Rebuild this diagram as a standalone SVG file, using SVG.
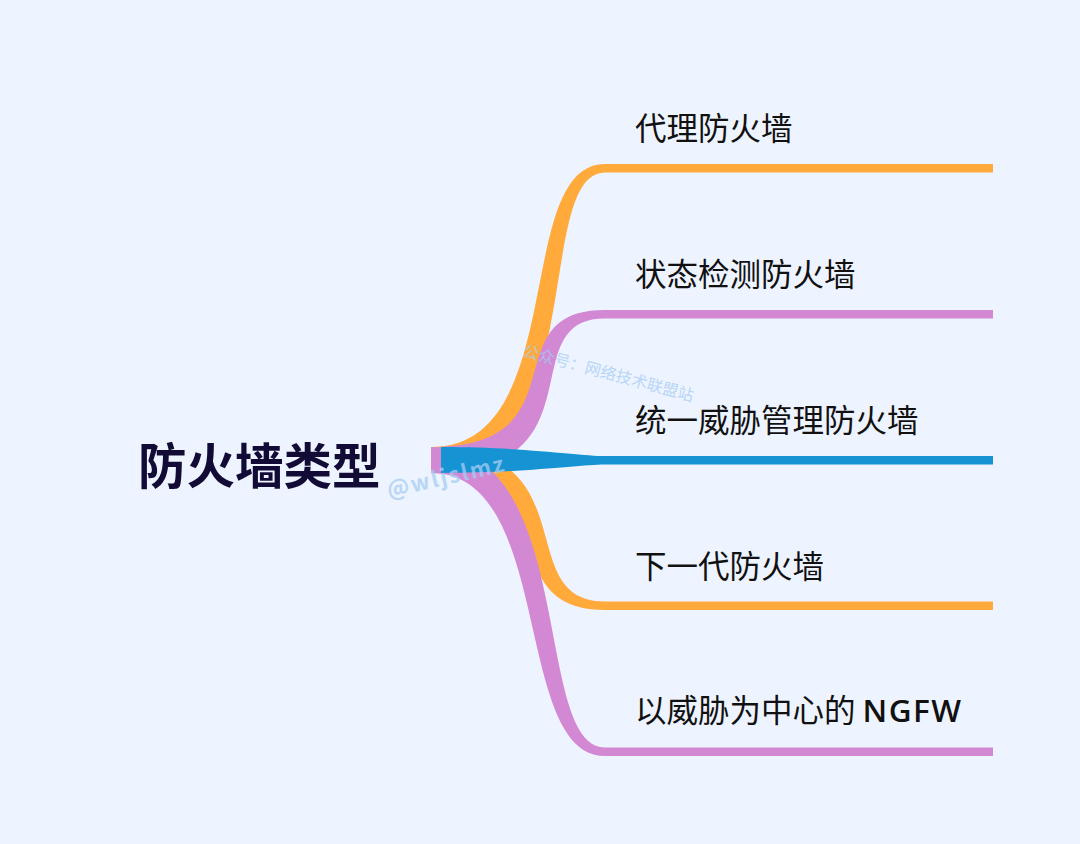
<svg xmlns="http://www.w3.org/2000/svg" width="1080" height="844" viewBox="0 0 1080 844">
<style>
.lbl{font-family:"Noto Sans CJK SC","Noto Sans",sans-serif;font-size:31.5px;fill:#111111}
.ttl{font-family:"Noto Sans CJK SC","Noto Sans",sans-serif;font-size:48.5px;font-weight:700;fill:#120b35}
.o{fill:#FFAA3B}.p{fill:#D388D4}.b{fill:#1593D3}
.wm{font-family:"Noto Sans CJK SC","Noto Sans",sans-serif;fill:#A6CDF3;opacity:0.75}
</style>
<rect width="1080" height="844" fill="#EEF4FF"/>
<g id="connectors">
<path class="o" d="M431,447 C570,447 512,164 605,164 L993,164 L993,172.5 L605,172.5 C532,172.5 592,473 431,473 Z"/>
<path class="p" d="M431,447 C585,447 490,310 605,310 L993,310 L993,318.5 L605,318.5 C510,318.5 605,473 431,473 Z"/>
<path class="o" d="M431,473 C570,473 490,610 605,610 L993,610 L993,601.5 L605,601.5 C510,601.5 590,447 431,447 Z"/>
<path class="p" d="M431,473 C555,473 512,756 605,756 L993,756 L993,747.5 L605,747.5 C532,747.5 578,447 431,447 Z"/>
<path class="b" d="M441,447 C525,447 580,456 605,456 L993,456 L993,464.5 L605,464.5 C580,464.5 525,473 441,473 Z"/>
</g>
<g id="root"><text class="ttl" x="138" y="484">防火墙类型</text></g>
<g id="n1"><text class="lbl" x="635" y="140">代理防火墙</text></g>
<g id="n2"><text class="lbl" x="635" y="286">状态检测防火墙</text></g>
<g id="n3"><text class="lbl" x="635" y="432">统一威胁管理防火墙</text></g>
<g id="n4"><text class="lbl" x="635" y="578">下一代防火墙</text></g>
<g id="n5"><text class="lbl" x="635" y="722">以威胁为中心的 <tspan font-family="'Open Sans',sans-serif" font-weight="600" letter-spacing="1.5">NGFW</tspan></text></g>
<g id="watermark">
<text class="wm" font-size="16" transform="translate(522,356) rotate(15)">公众号：网络技术联盟站</text>
<text class="wm" font-size="22" font-weight="700" letter-spacing="2" transform="translate(389,498) rotate(-13)">@wljslmz</text>
</g>
</svg>
